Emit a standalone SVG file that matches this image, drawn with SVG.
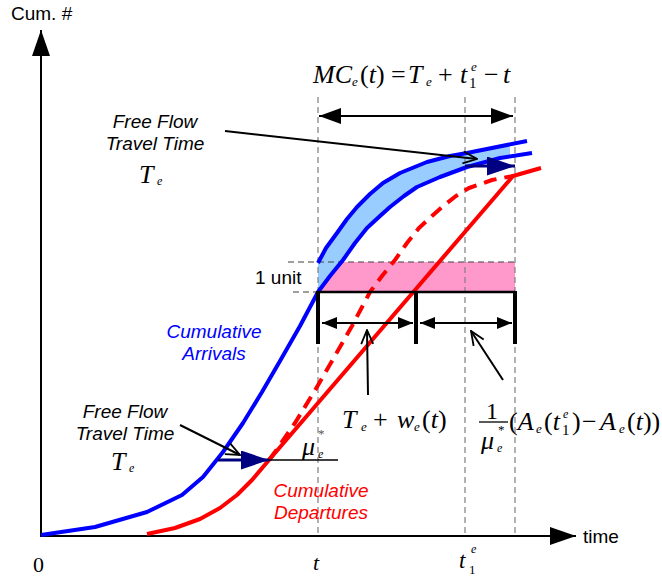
<svg xmlns="http://www.w3.org/2000/svg" width="662" height="578" viewBox="0 0 662 578">
<style>
.dash{stroke:#7f7f7f;stroke-width:1.2;stroke-dasharray:6 4;fill:none}
.dk{stroke:#404040;stroke-width:1.2;stroke-dasharray:6 4;fill:none}
.blue{stroke:#0000FF;stroke-width:4;fill:none;stroke-linejoin:round}
.red{stroke:#FF0000;stroke-width:4;fill:none;stroke-linejoin:round}
.ln{stroke:#000;fill:none}
.sans{font-family:"Liberation Sans",Arial,sans-serif}
.it{font-style:italic}
.m{font-family:"Liberation Serif","Times New Roman",serif;font-style:italic}
.r{font-family:"Liberation Serif","Times New Roman",serif;font-style:normal}
</style>
<defs>
<marker id="ax" markerUnits="userSpaceOnUse" viewBox="0 0 26 18" refX="26" refY="9" markerWidth="26" markerHeight="18" orient="auto"><path d="M0,0L26,9L0,18z" fill="#000"/></marker>
<marker id="big" markerUnits="userSpaceOnUse" viewBox="0 0 22 16" refX="22" refY="8" markerWidth="22" markerHeight="16" orient="auto-start-reverse"><path d="M0,0L22,8L0,16z" fill="#000"/></marker>
<marker id="sm" markerUnits="userSpaceOnUse" viewBox="0 0 15 12" refX="15" refY="6" markerWidth="15" markerHeight="12" orient="auto-start-reverse"><path d="M0,0L15,6L0,12z" fill="#000"/></marker>
<marker id="open" markerUnits="userSpaceOnUse" viewBox="0 0 16 14" refX="15" refY="7" markerWidth="16" markerHeight="14" orient="auto"><path d="M1,1L15,7L1,13" fill="none" stroke="#000" stroke-width="1.8"/></marker>
<marker id="navy" markerUnits="userSpaceOnUse" viewBox="0 0 28 19" refX="28" refY="9.5" markerWidth="28" markerHeight="19" orient="auto"><path d="M0,0L28,9.5L0,19z" fill="#000080"/></marker>
</defs>

<g id="regions">
<rect x="318" y="262" width="197" height="30" fill="#FF99CC"/>
<polygon fill="#99CCFF" points="318,263 326,248 337,233 347,219 357,207 370,194 383,183 400,173 427,162 450,156 467,153 510,144 510,156 500,158 467,167 440,177 417,187 404,196 390,207 380,216 367,228 355,243 343,260 330,276 318,292"/>
</g>

<g id="guides">
<line class="dash" x1="318" y1="97" x2="318" y2="536"/>
<line class="dash" x1="465" y1="97" x2="465" y2="536"/>
<line class="dash" x1="515" y1="97" x2="515" y2="536"/>
<line class="dk" x1="288" y1="262" x2="515" y2="262"/>
<line class="dk" x1="293" y1="292" x2="318" y2="292"/>
</g>

<g id="axes">
<line class="ln" stroke-width="2" x1="41" y1="536" x2="41" y2="30" marker-end="url(#ax)"/>
<line class="ln" stroke-width="2" x1="40" y1="536" x2="576" y2="536" marker-end="url(#ax)"/>
<text class="sans" x="11" y="20" font-size="19">Cum. #</text>
<text class="sans" x="583" y="543" font-size="19">time</text>
<text class="r" x="33" y="572" font-size="22">0</text>
<text class="m" x="313" y="570" font-size="22">t</text>
<text class="m" x="459" y="568" font-size="23">t</text>
<text class="r" x="469" y="574" font-size="13">1</text>
<text class="m" x="471" y="553" font-size="12">e</text>
</g>

<g id="arrivals">
<polyline class="blue" points="41,535 95,527 147,512 182,495 203,477 223,452 243,423 262,392 280,361 300,326 318,292 330,276 343,260 355,243 367,228 380,216 390,207 404,196 417,187 440,177 467,167 500,158 532,153"/>
<polyline class="blue" points="318,263 326,248 337,233 347,219 357,207 370,194 383,183 400,173 427,162 450,156 467,153 527,141"/>
<text class="sans it" x="214" y="338" font-size="19" fill="#0000FF" text-anchor="middle">Cumulative</text>
<text class="sans it" x="214" y="360" font-size="19" fill="#0000FF" text-anchor="middle">Arrivals</text>
</g>

<g id="departures">
<polyline class="red" stroke-dasharray="13 8" points="269,460 275,452 295,423 314,392 332,361 352,326 370,292 382,276 395,260 407,243 419,228 432,216 442,207 456,196 469,188 492,180 513,176"/>
<polyline class="red" points="147,534 175,528 200,519 220,508 237,495 252,480 269,460 513,176 541,168"/>
<text class="sans it" x="321" y="497" font-size="19" fill="#FF0000" text-anchor="middle">Cumulative</text>
<text class="sans it" x="321" y="519" font-size="19" fill="#FF0000" text-anchor="middle">Departures</text>
</g>

<g id="unit">
<text class="sans" x="255" y="284" font-size="19">1 unit</text>
</g>

<g id="bracket">
<line class="ln" stroke-width="2.5" x1="318" y1="292" x2="515" y2="292"/>
<line class="ln" stroke-width="4" x1="318" y1="291" x2="318" y2="344"/>
<line class="ln" stroke-width="4" x1="416" y1="291" x2="416" y2="344"/>
<line class="ln" stroke-width="4" x1="515" y1="291" x2="515" y2="344"/>
<line class="ln" stroke-width="2" x1="322" y1="323" x2="413" y2="323" marker-start="url(#sm)" marker-end="url(#sm)"/>
<line class="ln" stroke-width="2" x1="420" y1="323" x2="512" y2="323" marker-start="url(#sm)" marker-end="url(#sm)"/>
</g>

<g id="mc">
<line class="ln" stroke-width="2" x1="319" y1="116" x2="513" y2="116" marker-start="url(#big)" marker-end="url(#big)"/>
<text class="m" font-size="26" y="83"><tspan x="313">MC</tspan><tspan x="352" y="86" font-size="13">e</tspan><tspan x="360" y="83" class="r">(</tspan><tspan>t</tspan><tspan class="r">)</tspan><tspan x="391" class="r">=</tspan><tspan x="408">T</tspan><tspan x="426" y="86" font-size="13">e</tspan><tspan x="438" y="83" class="r">+</tspan><tspan x="460">t</tspan><tspan x="471" y="71" font-size="13">e</tspan><tspan x="469" y="88" font-size="15" class="r">1</tspan><tspan x="484" y="83" class="r">−</tspan><tspan x="503">t</tspan></text>
</g>

<g id="ff-top">
<text class="sans it" x="155" y="128" font-size="19" text-anchor="middle">Free Flow</text>
<text class="sans it" x="155" y="150" font-size="19" text-anchor="middle">Travel Time</text>
<text class="m" x="139" y="183" font-size="26">T</text>
<text class="m" x="157" y="185" font-size="12">e</text>
<line class="ln" stroke-width="2" x1="225" y1="131" x2="477" y2="159" marker-end="url(#open)"/>
<line stroke="#000080" stroke-width="3" x1="465" y1="166" x2="515" y2="166" marker-end="url(#navy)"/>
</g>

<g id="ff-bottom">
<text class="sans it" x="125" y="418" font-size="19" text-anchor="middle">Free Flow</text>
<text class="sans it" x="125" y="440" font-size="19" text-anchor="middle">Travel Time</text>
<text class="m" x="111" y="470" font-size="26">T</text>
<text class="m" x="129" y="472" font-size="12">e</text>
<line class="ln" stroke-width="2" x1="180" y1="425" x2="240" y2="455" marker-end="url(#open)"/>
<line class="ln" stroke-width="1.5" x1="266" y1="460" x2="338" y2="460"/>
<line stroke="#000080" stroke-width="3" x1="218" y1="460" x2="269" y2="460" marker-end="url(#navy)"/>
<text class="m" x="302" y="455" font-size="26">μ</text>
<text class="m" x="318" y="458" font-size="12">e</text>
<text class="r" x="318" y="438" font-size="13" fill="#555">*</text>
</g>

<g id="tw">
<line class="ln" stroke-width="2" x1="368" y1="395" x2="367" y2="330" marker-end="url(#open)"/>
<text class="m" font-size="26" y="428"><tspan x="342">T</tspan><tspan x="361" y="431" font-size="13">e</tspan><tspan x="373" y="428" class="r">+</tspan><tspan x="397">w</tspan><tspan x="414" y="431" font-size="13">e</tspan><tspan x="422" y="428" class="r">(</tspan><tspan>t</tspan><tspan class="r">)</tspan></text>
</g>

<g id="rest">
<line class="ln" stroke-width="2" x1="503" y1="380" x2="471" y2="331" marker-end="url(#open)"/>
<text class="r" x="486" y="419" font-size="24">1</text>
<line class="ln" stroke-width="1.3" x1="479" y1="422" x2="508" y2="422"/>
<text class="m" x="481" y="449" font-size="26">μ</text>
<text class="m" x="497" y="452" font-size="12">e</text>
<text class="r" x="498" y="434" font-size="13">*</text>
<text class="m" font-size="26" y="430"><tspan x="509" class="r">(</tspan><tspan>A</tspan><tspan x="536" y="433" font-size="13">e</tspan><tspan x="544" y="430" class="r">(</tspan><tspan>t</tspan><tspan x="563" y="418" font-size="12">e</tspan><tspan x="562" y="435" font-size="15" class="r">1</tspan><tspan x="572" y="430" class="r">)</tspan><tspan x="582" class="r">−</tspan><tspan x="600">A</tspan><tspan x="619" y="433" font-size="13">e</tspan><tspan x="627" y="430" class="r">(</tspan><tspan>t</tspan><tspan class="r">))</tspan></text>
</g>
</svg>
